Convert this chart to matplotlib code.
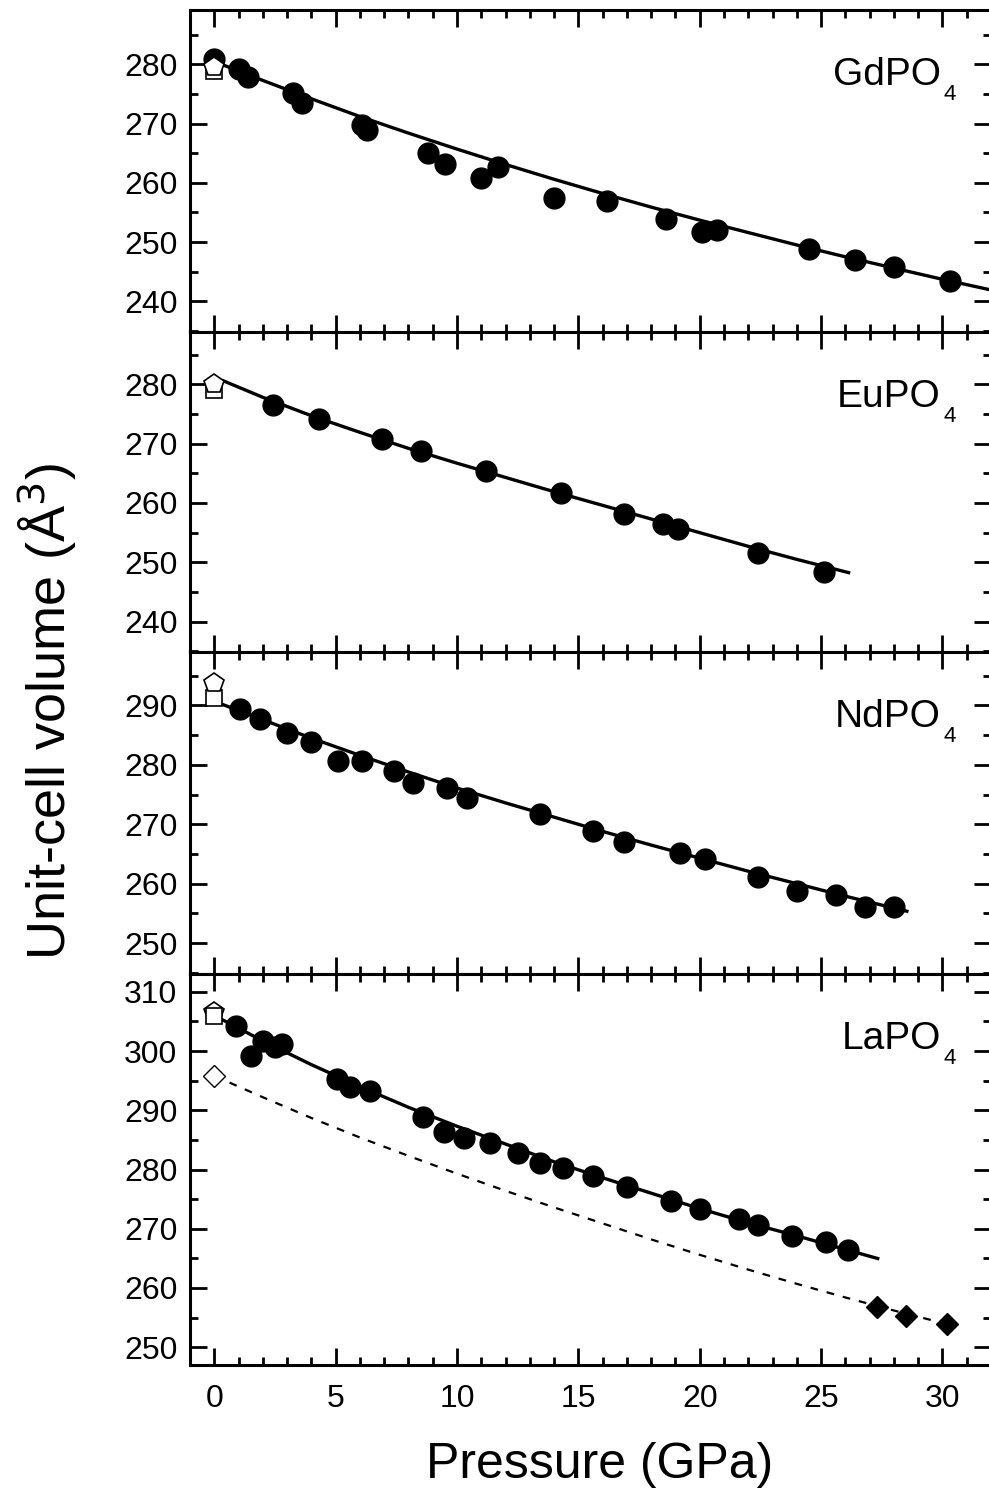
import matplotlib
matplotlib.use("Agg")
import matplotlib.pyplot as plt
from matplotlib.ticker import MultipleLocator

plt.rcParams['font.family'] = ['Liberation Sans', 'DejaVu Sans']

# ---------------- data ----------------
# GdPO4
gd_p = [0.0, 1.0, 1.4, 3.25, 3.6, 6.1, 6.3, 8.8, 9.5, 11.0, 11.7, 14.0, 16.2,
        18.6, 20.1, 20.7, 24.5, 26.4, 28.0, 30.3]
gd_v = [281.0, 279.3, 277.9, 275.1, 273.5, 269.7, 268.9, 265.1, 263.2, 260.8,
        262.6, 257.4, 257.0, 253.9, 251.7, 252.1, 248.9, 246.9, 245.8, 243.4]
gd_ref_square = 278.9
gd_ref_pent = 279.5
gd_fit_p = [0, 2, 4, 6, 8, 10, 12, 14, 16, 18, 20, 22, 24, 26, 28, 30, 32]
gd_fit_v = [280.5, 277.3, 274.2, 271.2, 268.4, 265.7, 263.1, 260.6, 258.2,
            255.9, 253.7, 251.6, 249.5, 247.5, 245.6, 243.7, 241.9]

# EuPO4
eu_p = [2.4, 4.3, 6.9, 8.5, 11.2, 14.3, 16.9, 18.5, 19.1, 22.4, 25.1]
eu_v = [276.5, 274.1, 270.7, 268.8, 265.4, 261.6, 258.2, 256.4, 255.6, 251.6, 248.3]
eu_ref_square = 279.1
eu_ref_pent = 280.0
eu_fit_p = [0.3, 2, 4, 6, 8, 10, 12, 14, 16, 18, 20, 22, 24, 26.2]
eu_fit_v = [280.7, 277.8, 274.7, 271.9, 269.2, 266.7, 264.3, 261.9, 259.6,
            257.3, 255.0, 252.7, 250.5, 248.2]

# NdPO4
nd_p = [1.06, 1.9, 3.0, 4.0, 5.1, 6.1, 7.4, 8.2, 9.6, 10.4, 13.4, 15.6, 16.9,
        19.2, 20.2, 22.4, 24.0, 25.6, 26.8, 28.0]
nd_v = [289.4, 287.8, 285.3, 283.9, 280.7, 280.6, 279.0, 276.9, 276.1, 274.4,
        271.7, 268.8, 267.0, 265.1, 264.2, 261.2, 258.8, 258.1, 256.1, 256.0]
nd_ref_square = 291.3
nd_ref_pent = 293.7
nd_fit_p = [0, 2, 4, 6, 8, 10, 12, 14, 16, 18, 20, 22, 24, 26, 28, 28.6]
nd_fit_v = [290.7, 287.6, 284.5, 281.6, 278.8, 276.1, 273.6, 271.2, 268.8,
            266.5, 264.3, 262.1, 260.0, 257.9, 255.9, 255.3]

# LaPO4
la_p = [0.9, 1.5, 2.0, 2.5, 2.8, 5.05, 5.6, 6.4, 8.6, 9.45, 10.3, 11.35, 12.5,
        13.4, 14.35, 15.6, 17.0, 18.8, 20.0, 21.6, 22.4, 23.8, 25.2, 26.1]
la_v = [304.2, 299.2, 301.7, 300.7, 301.1, 295.2, 294.0, 293.2, 288.9, 286.3,
        285.4, 284.5, 282.8, 281.1, 280.3, 278.9, 277.1, 274.7, 273.3, 271.6,
        270.6, 268.7, 267.8, 266.4]
la_ref_square = 305.9
la_ref_pent = 306.6
la_fit_p = [0, 2, 4, 6, 8, 10, 12, 14, 16, 18, 20, 22, 24, 26, 27.4]
la_fit_v = [306.0, 301.7, 297.7, 294.0, 290.5, 287.3, 284.3, 281.3, 278.6,
            276.0, 273.4, 271.0, 268.8, 266.5, 264.9]
# high-pressure phase of LaPO4
la_hp_p = [27.3, 28.5, 30.2]
la_hp_v = [256.8, 255.2, 254.0]
la_hp_ref = 295.8
la_hp_fit_p = [0, 2, 4, 6, 8, 10, 12, 14, 16, 18, 20, 22, 24, 26, 28, 30, 30.3]
la_hp_fit_v = [295.8, 292.2, 288.7, 285.4, 282.3, 279.3, 276.4, 273.6, 270.9,
               268.2, 265.6, 263.1, 260.7, 258.4, 256.2, 254.1, 253.8]

compounds = ["GdPO", "EuPO", "NdPO", "LaPO"]
x_ticks = [0, 5, 10, 15, 20, 25, 30]

# ---------------- layout ----------------
W, H = 989, 1494
fig = plt.figure(figsize=(W / 100, H / 100), dpi=100)

LEFT, RIGHT = 190, 991
panels = [
    # top px, bottom px, ylim
    (10, 332, (234.8, 289.2)),
    (332, 652, (234.9, 288.8)),
    (652, 974, (244.8, 299.0)),
    (974, 1365, (247.0, 313.0)),
]

axes = []
for top, bot, ylim in panels:
    ax = fig.add_axes([LEFT / W, (H - bot) / H, (RIGHT - LEFT) / W, (bot - top) / H])
    ax.set_xlim(-1, 32)
    ax.set_ylim(*ylim)
    ax.xaxis.set_major_locator(MultipleLocator(5))
    ax.xaxis.set_minor_locator(MultipleLocator(1))
    ax.yaxis.set_major_locator(MultipleLocator(10))
    ax.yaxis.set_minor_locator(MultipleLocator(5))
    ax.tick_params(which='both', direction='in', top=True, right=True,
                   width=2.0, color='black')
    ax.tick_params(which='major', length=12)
    ax.tick_params(which='minor', length=6)
    ax.tick_params(axis='y', labelsize=23, pad=9)
    ax.tick_params(axis='x', labelsize=23, pad=14)
    for s in ax.spines.values():
        s.set_linewidth(2.2)
    axes.append(ax)

for ax in axes[:-1]:
    ax.tick_params(axis='x', labelbottom=False)
axes[-1].set_xticks(x_ticks)

circ = dict(marker='o', ms=15, color='black', ls='none', zorder=4)
sq = dict(marker='s', ms=12, mfc='white', mec='black', mew=1.2, ls='none', zorder=5)
pent = dict(marker='p', ms=15, mfc='white', mec='black', mew=1.2, ls='none', zorder=5)
fit = dict(color='black', lw=2.4, zorder=2, solid_capstyle='butt')

# GdPO4
ax = axes[0]
ax.plot(gd_fit_p, gd_fit_v, **fit)
ax.plot(gd_p, gd_v, **circ)
ax.plot([0], [gd_ref_square], **sq)
ax.plot([0], [gd_ref_pent], **pent)

# EuPO4
ax = axes[1]
ax.plot(eu_fit_p, eu_fit_v, **fit)
ax.plot(eu_p, eu_v, **circ)
ax.plot([0], [eu_ref_square], **sq)
ax.plot([0], [eu_ref_pent], **pent)

# NdPO4
ax = axes[2]
ax.plot(nd_fit_p, nd_fit_v, **fit)
ax.plot(nd_p, nd_v, **circ)
ax.plot([0], [nd_ref_square], **sq)
ax.plot([0], [nd_ref_pent], **pent)

# LaPO4
ax = axes[3]
ax.plot(la_fit_p, la_fit_v, **fit)
ax.plot(la_hp_fit_p, la_hp_fit_v, color='black', lw=1.6, dashes=(3.5, 4.0), zorder=2)
ax.plot(la_p, la_v, **circ)
ax.plot(la_hp_p, la_hp_v, marker='D', ms=11, color='black', ls='none', zorder=4)
ax.plot([0], [la_hp_ref], marker='D', ms=11, mfc='white', mec='black', mew=1.0,
        ls='none', zorder=5)
ax.plot([0], [la_ref_pent], **pent)
ax.plot([0], [la_ref_square], **sq)

# compound labels in the upper right corner of each panel
for ax, name in zip(axes, compounds):
    ax.annotate(name, xy=(1, 1), xycoords='axes fraction',
                xytext=(-36, -54), textcoords='offset points',
                ha='right', va='baseline', fontsize=28)
    ax.annotate('4', xy=(1, 1), xycoords='axes fraction',
                xytext=(-34, -65), textcoords='offset points',
                ha='left', va='baseline', fontsize=16)

fig.text(600 / W, 1 - 1465 / H, 'Pressure (GPa)', ha='center', va='center',
         fontsize=36)
fig.text(47 / W, 1 - 712 / H, 'Unit-cell volume (Å$^3$)', ha='center', va='center',
         rotation=90, fontsize=39)

fig.savefig('out.png', dpi=100)
